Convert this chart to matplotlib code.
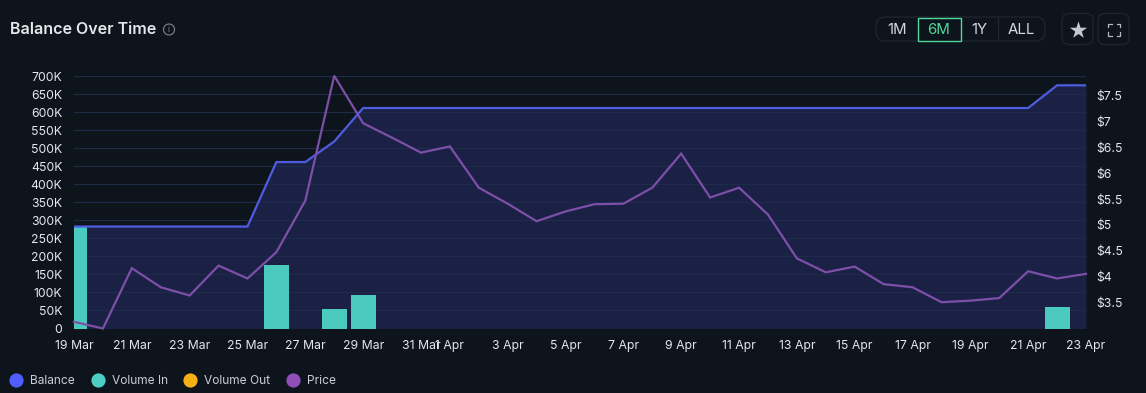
import matplotlib
matplotlib.use('Agg')
import matplotlib.pyplot as plt
from matplotlib.patches import FancyBboxPatch, Circle, Rectangle

plt.rcParams['font.family'] = ['Inter', 'DejaVu Sans']

BG = '#0e141b'
GRID = '#1f2b4a'
TEXT = '#e4e7ec'

days = ['19 Mar', '20 Mar', '21 Mar', '22 Mar', '23 Mar', '24 Mar', '25 Mar', '26 Mar', '27 Mar',
        '28 Mar', '29 Mar', '30 Mar', '31 Mar', '1 Apr', '2 Apr', '3 Apr', '4 Apr', '5 Apr',
        '6 Apr', '7 Apr', '8 Apr', '9 Apr', '10 Apr', '11 Apr', '12 Apr', '13 Apr', '14 Apr',
        '15 Apr', '16 Apr', '17 Apr', '18 Apr', '19 Apr', '20 Apr', '21 Apr', '22 Apr', '23 Apr']
x_labels = ['19 Mar', '21 Mar', '23 Mar', '25 Mar', '27 Mar', '29 Mar', '31 Mar', '1 Apr', '3 Apr',
            '5 Apr', '7 Apr', '9 Apr', '11 Apr', '13 Apr', '15 Apr', '17 Apr', '19 Apr', '21 Apr', '23 Apr']

balance = [283, 283, 283, 283, 283, 283, 283, 462, 462, 519, 612, 612, 612, 612, 612, 612, 612, 612,
           612, 612, 612, 612, 612, 612, 612, 612, 612, 612, 612, 612, 612, 612, 612, 612, 675, 675]
volume_in = [285, 0, 0, 0, 0, 0, 0, 176, 0, 55, 92, 0, 0, 0, 0, 0, 0, 0,
             0, 0, 0, 0, 0, 0, 0, 0, 0, 0, 0, 0, 0, 0, 0, 0, 60, 0]
price = [3.12, 2.99, 4.16, 3.79, 3.63, 4.21, 3.96, 4.47, 5.47, 7.89, 6.97, 6.69, 6.40, 6.52, 5.72, 5.41, 5.07, 5.26,
         5.40, 5.41, 5.72, 6.38, 5.53, 5.72, 5.20, 4.35, 4.08, 4.19, 3.85, 3.79, 3.50, 3.53, 3.58, 4.10, 3.96, 4.05]

left_ticks = [0, 50, 100, 150, 200, 250, 300, 350, 400, 450, 500, 550, 600, 650, 700]
left_labels = ['0', '50K', '100K', '150K', '200K', '250K', '300K', '350K', '400K', '450K', '500K',
               '550K', '600K', '650K', '700K']
right_ticks = [3.5, 4, 4.5, 5, 5.5, 6, 6.5, 7, 7.5]
right_labels = ['$3.5', '$4', '$4.5', '$5', '$5.5', '$6', '$6.5', '$7', '$7.5']

legend_names = ['Balance', 'Volume In', 'Volume Out', 'Price']
legend_colors = ['#4f5dfb', '#4ecdc4', '#f5b014', '#8e4fb8']

W, H = 1146, 393
fig = plt.figure(figsize=(W / 100, H / 100), dpi=100, facecolor=BG)

# axes box in pixels: x 74-1086, y 76.3-328.5
ax = fig.add_axes([74 / W, 1 - 328.5 / H, 1012 / W, 252.2 / H], facecolor=BG)
xs = list(range(len(days)))

ax.fill_between(xs, balance, 0, color='#1a2145', lw=0, zorder=1)
ax.bar(xs, volume_in, width=0.87, color='#4bc9bf', lw=0, zorder=3)
ax.plot(xs, balance, color='#4f5ce0', lw=1.6, zorder=4, solid_joinstyle='miter')
ax.set_xlim(0, 35)
ax.set_ylim(0, 700)
ax.set_yticks(left_ticks, left_labels)
ax.set_xticks([days.index(d) for d in x_labels], x_labels)
ax.grid(axis='y', color=GRID, lw=0.8, zorder=2)
ax.set_axisbelow(False)
ax.tick_params(axis='both', length=0, colors=TEXT, labelsize=8.8)
ax.tick_params(axis='y', pad=8.3)
ax.tick_params(axis='x', pad=8.5)
for spine in ax.spines.values():
    spine.set_visible(False)

ax2 = ax.twinx()
ax2.plot(xs, price, color='#7d4fa8', lw=1.6, zorder=5, clip_on=False, solid_joinstyle='miter')
ax2.set_ylim(2.99, 7.88)
ax2.set_yticks(right_ticks, right_labels)
ax2.tick_params(axis='y', length=0, colors=TEXT, labelsize=8.8, pad=7.5)
for spine in ax2.spines.values():
    spine.set_visible(False)

# header and legend, drawn in pixel coordinates
ui = fig.add_axes([0, 0, 1, 1], facecolor='none')
ui.set_xlim(0, W)
ui.set_ylim(H, 0)
ui.axis('off')

ui.text(10, 29.5, 'Balance Over Time', color=TEXT, fontsize=11.55, fontweight='semibold', va='center')
ui.add_patch(Circle((169, 29.5), 5.5, fc='none', ec='#7f8690', lw=0.8))
ui.text(169, 29.5, 'i', color='#7f8690', fontsize=6, ha='center', va='center')

BORDER = '#20262e'
ui.add_patch(FancyBboxPatch((876, 17), 169, 24, boxstyle='round,pad=0,rounding_size=9',
                            fc=BG, ec=BORDER, lw=0.9))
ui.plot([998, 998], [17, 41], color=BORDER, lw=0.9)
ui.add_patch(Rectangle((917.5, 17.5), 43, 23, fc=BG, ec='#4fd79c', lw=1))
for label, cx, col in [('1M', 897, '#d5d8dc'), ('6M', 939, '#4fd79c'), ('1Y', 979, '#d5d8dc'), ('ALL', 1021, '#d5d8dc')]:
    ui.text(cx, 29.5, label, color=col, fontsize=10.8, ha='center', va='center')

for x0 in [1062, 1098]:
    ui.add_patch(FancyBboxPatch((x0, 13.5), 31, 31, boxstyle='round,pad=0,rounding_size=7',
                                fc=BG, ec=BORDER, lw=0.9))
ui.scatter([1078], [29.5], marker='*', s=170, color='#c5c9ce', lw=0)
# fullscreen corners
for sx, sy in [(-1, -1), (1, -1), (-1, 1), (1, 1)]:
    cx, cy = 1114 + sx * 6, 29.5 + sy * 6
    ui.plot([cx, cx, cx - sx * 3.5], [cy - sy * 3.5, cy, cy], color='#b5b9be', lw=0.9)

for name, col, dot_x in zip(legend_names, legend_colors, [16, 98, 190, 293]):
    ui.scatter([dot_x], [380], s=105, color=col, lw=0)
    ui.text(dot_x + 14, 380.5, name, color='#c9ced4', fontsize=8.6, va='center')

fig.savefig('out.png', dpi=100, facecolor=BG)
